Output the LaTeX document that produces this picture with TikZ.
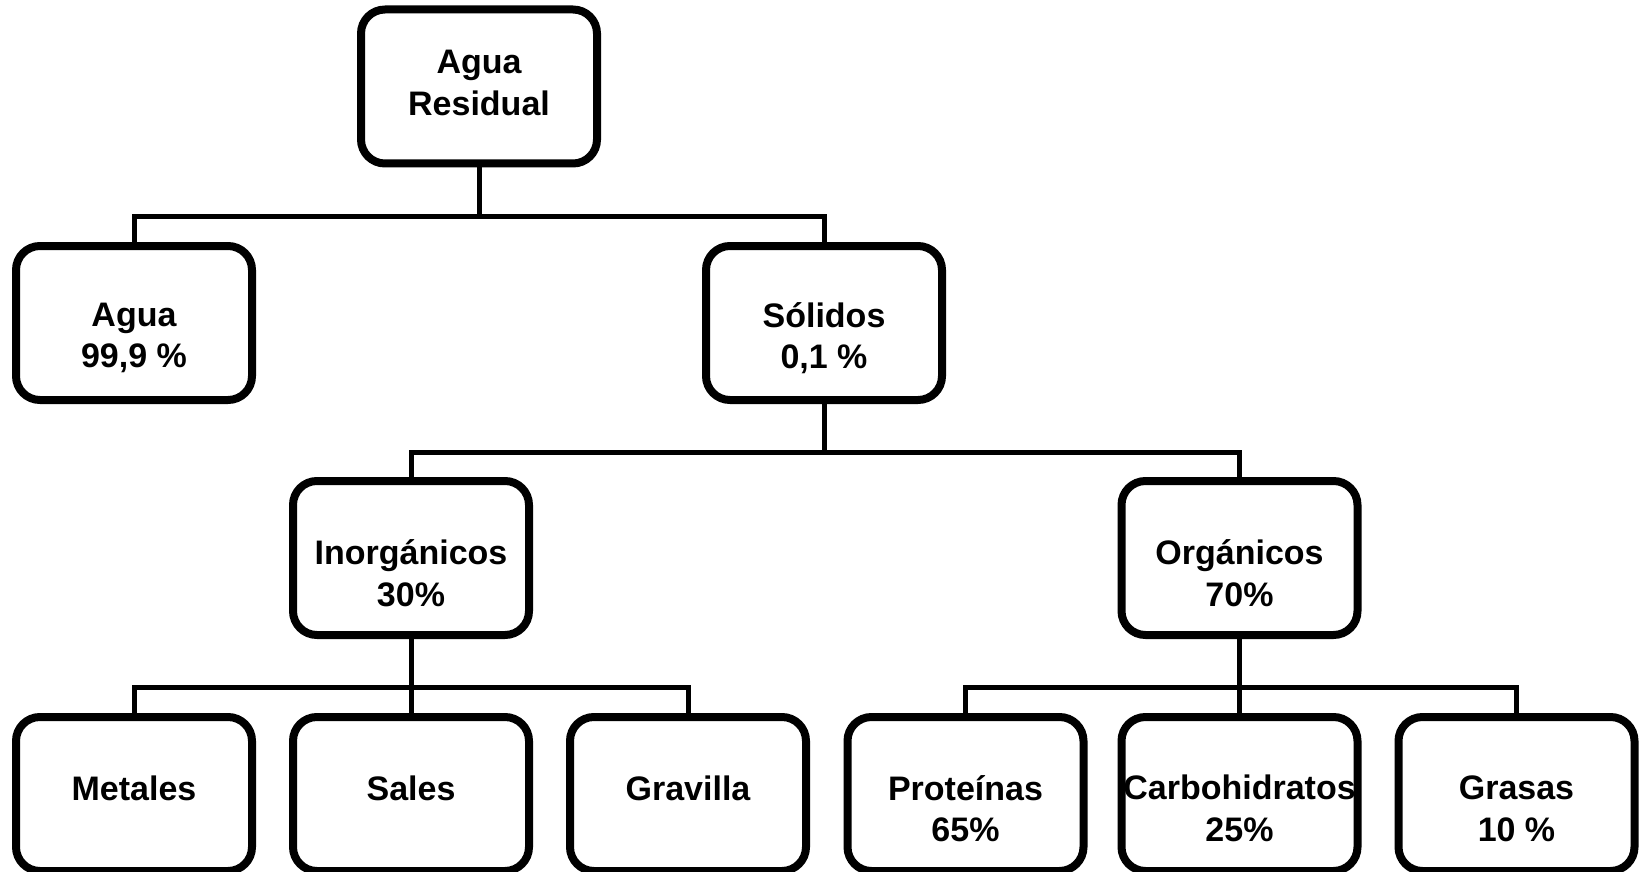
\documentclass[tikz,border=0pt]{standalone}
\usepackage{fontspec}
\setmainfont{Liberation Sans}
\begin{document}
\begin{tikzpicture}[x=0.5pt,y=-0.5pt,
  box/.style={draw=black, line width=4pt, rounded corners=12pt, fill=white,
    minimum width=118pt, minimum height=77pt, inner sep=0pt},
  lbl/.style={font=\fontsize{17}{20.8}\selectfont\bfseries, align=center, inner sep=0pt},
  conn/.style={draw=black, line width=2.5pt}]
\useasboundingbox (0,0) rectangle (1640,872);

% boxes
\node[box] (root)  at (479,86.5) {};
\node[box] (agua)  at (134,323) {};
\node[box] (sol)   at (824,323) {};
\node[box] (inorg) at (411,558) {};
\node[box] (org)   at (1239.5,558) {};
\node[box] (met)   at (134,794) {};
\node[box] (sal)   at (411,794) {};
\node[box] (grav)  at (688,794) {};
\node[box] (prot)  at (965.5,794) {};
\node[box] (carb)  at (1239.5,794) {};
\node[box] (gras)  at (1516.5,794) {};

% labels
\node[lbl] (root-t)  at (479,83)      {Agua\\Residual};
\node[lbl] (agua-t)  at (134,338)     {Agua\\99,9 \%};
\node[lbl] (sol-t)   at (824,338)     {Sólidos\\0,1 \%};
\node[lbl] (inorg-t) at (411,573)     {Inorgánicos\\30\%};
\node[lbl] (org-t)   at (1239.5,573)  {Orgánicos\\70\%};
\node[lbl] (met-t)   at (134,788)     {Metales};
\node[lbl] (sal-t)   at (411,788)     {Sales};
\node[lbl] (grav-t)  at (688,788)     {Gravilla};
\node[lbl] (prot-t)  at (965.5,808.5) {Proteínas\\65\%};
\node[lbl] (carb-t)  at (1239.5,808.5){Carbohidratos\\25\%};
\node[lbl] (gras-t)  at (1516.5,808.5){Grasas\\10 \%};

% junction points of the bars
\coordinate (j1) at (479,216.5);
\coordinate (j2) at (824,452);
\coordinate (j3) at (411,687);
\coordinate (j4) at (1239.5,687);

% connectors
\draw[conn] (root.south) -- (j1);
\draw[conn] (agua.north) |- (j1) -| (sol.north);
\draw[conn] (sol.south) -- (j2);
\draw[conn] (inorg.north) |- (j2) -| (org.north);
\draw[conn] (inorg.south) -- (sal.north);
\draw[conn] (met.north) |- (j3) -| (grav.north);
\draw[conn] (org.south) -- (carb.north);
\draw[conn] (prot.north) |- (j4) -| (gras.north);
\end{tikzpicture}
\end{document}
